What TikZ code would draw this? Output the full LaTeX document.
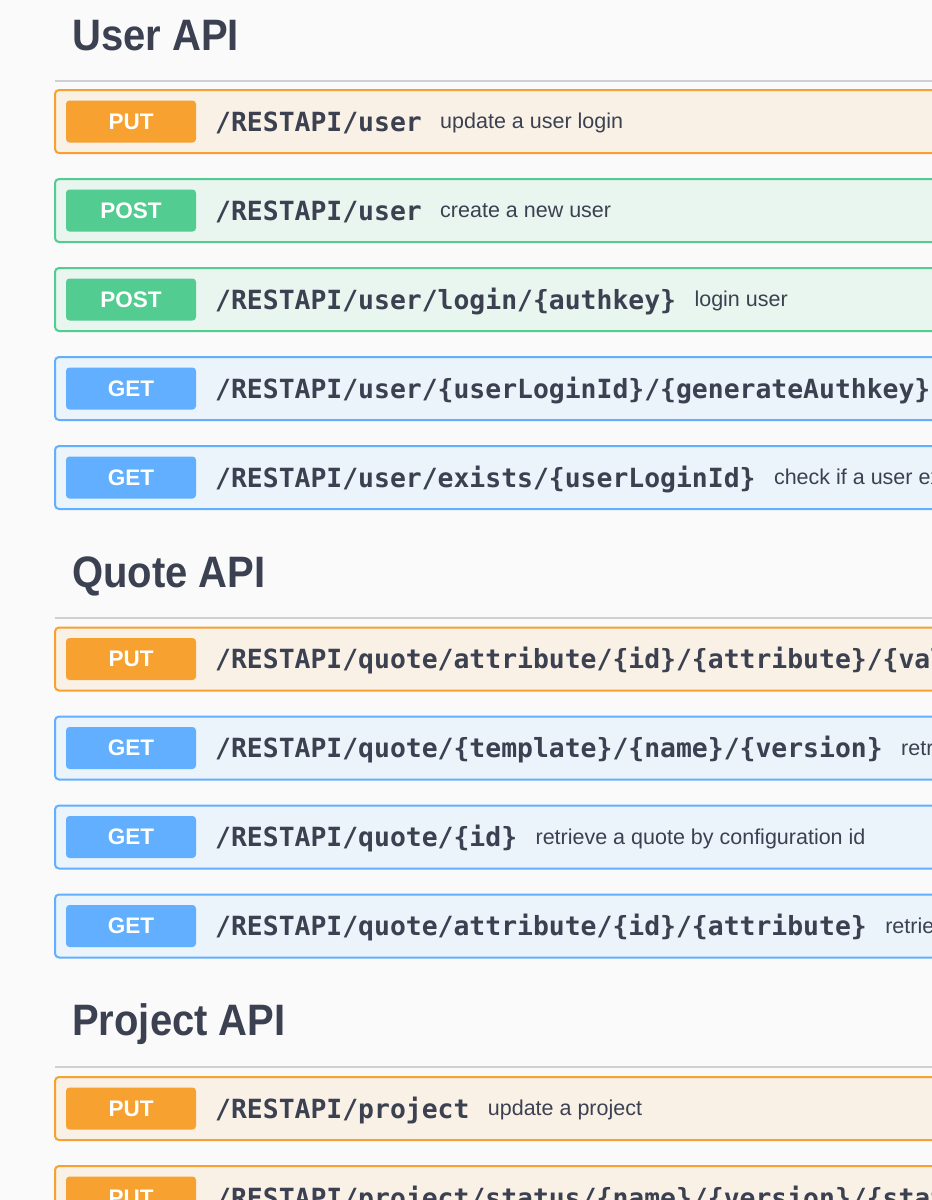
\documentclass[tikz,border=0pt]{standalone}
\usepackage{fontspec}
\setmainfont{Liberation Sans}
\newfontfamily\pathfont{DejaVu Sans Mono}
\definecolor{bgc}{RGB}{250,250,250}
\definecolor{txt}{RGB}{59,65,81}
\definecolor{sepc}{RGB}{206,208,212}
\definecolor{putc}{RGB}{246,161,48}
\definecolor{putf}{RGB}{250,241,230}
\definecolor{postc}{RGB}{82,204,144}
\definecolor{postf}{RGB}{233,245,239}
\definecolor{getc}{RGB}{97,175,254}
\definecolor{getf}{RGB}{235,243,251}
\tikzset{
  heading/.style={inner sep=0pt, text=txt, yscale=1.1, transform shape, font=\fontsize{40}{44}\selectfont\bfseries},
  sepline/.style={draw=sepc, line width=2pt},
  putbox/.style={draw=putc, fill=putf, line width=2pt, rounded corners=4pt},
  postbox/.style={draw=postc, fill=postf, line width=2pt, rounded corners=4pt},
  getbox/.style={draw=getc, fill=getf, line width=2pt, rounded corners=4pt},
  badge/.style={minimum width=130pt, minimum height=42pt, inner sep=0pt, rounded corners=3.5pt,
    text=white, font=\fontsize{22.5}{24}\selectfont\bfseries},
  pathtxt/.style={inner sep=0pt, text=txt, font=\pathfont\fontsize{26.4}{28}\selectfont\bfseries},
  desctxt/.style={inner sep=0pt, text=txt, font=\fontsize{21.5}{24}\selectfont},
}
\newcommand\apirow[6]{%
  \draw[#3box] (55,#2-31.5) rectangle (960,#2+31.5);
  \node[badge, fill=#3c] (#1m) at (131,#2) {#4};
  \node[pathtxt, anchor=base west] (#1p) at (215,#2+9.5) {#5};
  \node[desctxt, anchor=base west] (#1d) at ([xshift=18pt,yshift=2.5pt]#1p.base east) {#6};
}
\begin{document}
\begin{tikzpicture}[x=1pt,y=-1pt]
\useasboundingbox (0,0) rectangle (932,1200);
\clip (0,0) rectangle (932,1200);
\fill[bgc] (0,0) rectangle (932,1200);

% User API
\node[heading, anchor=base west] (huser) at (72,50) {User API};
\draw[sepline] (55,81) -- (940,81);
\apirow{r1}{121.5}{put}{PUT}{/RESTAPI/user}{update a user login}
\apirow{r2}{210.5}{post}{POST}{/RESTAPI/user}{create a new user}
\apirow{r3}{299.5}{post}{POST}{/RESTAPI/user/login/\{authkey\}}{login user}
\apirow{r4}{388.5}{get}{GET}{/RESTAPI/user/\{userLoginId\}/\{generateAuthkey\}}{}
\apirow{r5}{477.5}{get}{GET}{/RESTAPI/user/exists/\{userLoginId\}}{check if a user exists}

% Quote API
\node[heading, anchor=base west] (hquote) at (72,587) {Quote API};
\draw[sepline] (55,617.5) -- (940,617.5);
\apirow{r6}{659}{put}{PUT}{/RESTAPI/quote/attribute/\{id\}/\{attribute\}/\{value\}}{}
\apirow{r7}{748}{get}{GET}{/RESTAPI/quote/\{template\}/\{name\}/\{version\}}{retrieve a quote}
\apirow{r8}{837}{get}{GET}{/RESTAPI/quote/\{id\}}{retrieve a quote by configuration id}
\apirow{r9}{926}{get}{GET}{/RESTAPI/quote/attribute/\{id\}/\{attribute\}}{retrieve an attribute}

% Project API
\node[heading, anchor=base west] (hproject) at (72,1035) {Project API};
\draw[sepline] (55,1067) -- (940,1067);
\apirow{r10}{1108.5}{put}{PUT}{/RESTAPI/project}{update a project}
\apirow{r11}{1197.5}{put}{PUT}{/RESTAPI/project/status/\{name\}/\{version\}/\{status\}}{}
\end{tikzpicture}
\end{document}
